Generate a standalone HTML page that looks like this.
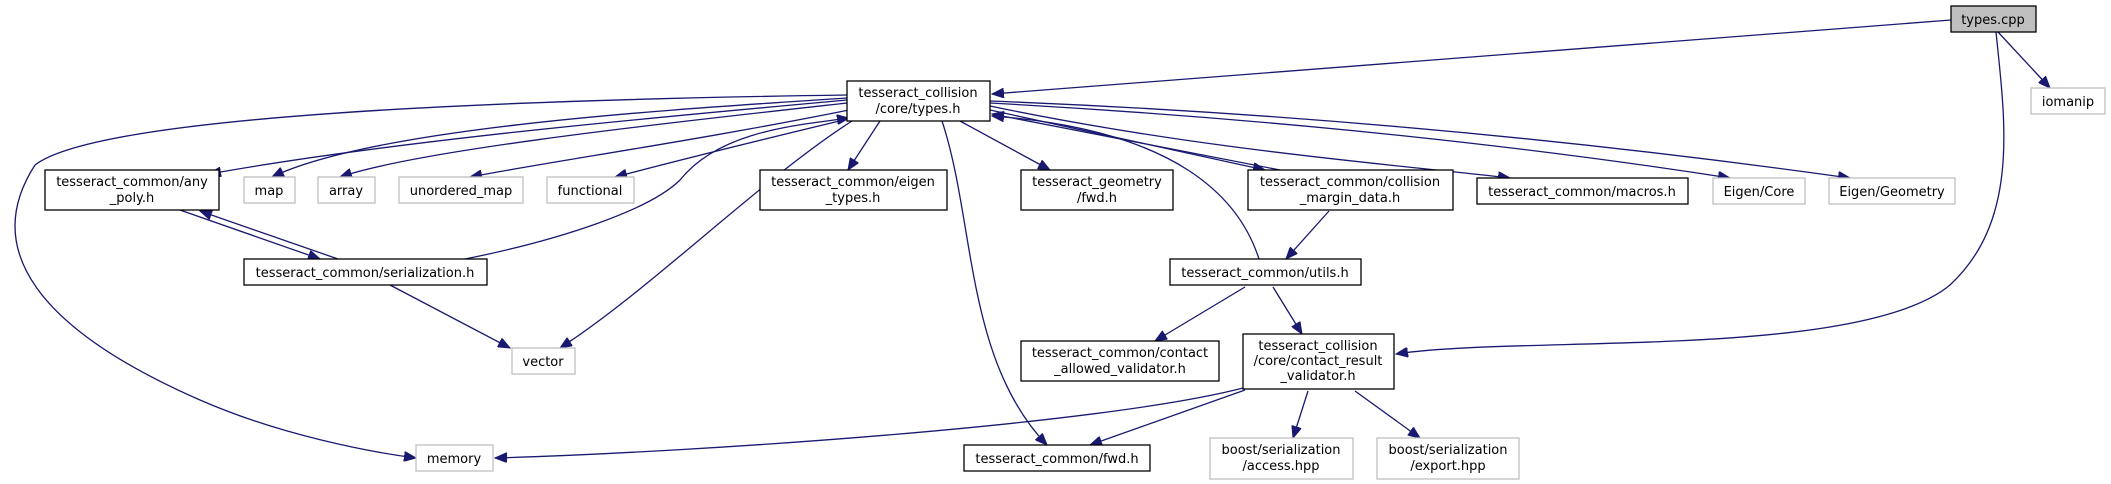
<!DOCTYPE html>
<html><head><meta charset="utf-8"><style>
html,body{margin:0;padding:0;background:#fff;}
svg{display:block;}
text{font-family:"DejaVu Sans","Liberation Sans",sans-serif;font-size:13px;fill:#000;text-anchor:middle;}
.h{fill:#fff;stroke:#000;stroke-width:1.3;}
.s{fill:#fff;stroke:#bfbfbf;stroke-width:1.3;}
.e{fill:none;stroke:#191970;stroke-width:1.3;}
</style></head><body>
<svg width="2111" height="484" viewBox="0 0 2111 484" xmlns="http://www.w3.org/2000/svg">
<defs>
<marker id="a" markerWidth="13" markerHeight="10" refX="12" refY="5" orient="auto" markerUnits="userSpaceOnUse">
<path d="M0,0 L12,5 L0,10 Z" fill="#191970" stroke="#191970"/>
</marker>
</defs>
<g class="e" marker-end="url(#a)">
<path d="M1951,20 L992,94"/>
<path d="M1998,32 L2050,88"/>
<path d="M1996,32 C2005,120 2020,220 1950,285 C1860,360 1520,335 1396,354"/>
<path d="M847,100 C650,118 400,140 209,174"/>
<path d="M847,98 C700,108 380,125 272,177"/>
<path d="M847,103 C650,125 420,150 340,177"/>
<path d="M849,110 C700,140 560,160 470,177"/>
<path d="M852,118 C760,140 680,160 615,177"/>
<path d="M880,121 L848,170"/>
<path d="M942,121 C975,220 965,360 1047,445"/>
<path d="M960,121 L1050,170"/>
<path d="M990,110 L1265,170"/>
<path d="M1280,170 L992,114"/>
<path d="M990,106 C1200,150 1400,165 1510,178"/>
<path d="M990,103 C1300,120 1550,150 1730,178"/>
<path d="M990,101 C1350,115 1650,150 1850,178"/>
<path d="M847,95 C500,100 100,115 35,165 C-20,250 40,330 200,400 C280,435 370,452 416,458"/>
<path d="M852,121 C760,180 650,290 560,348"/>
<path d="M465,259 C560,240 650,210 680,180 C720,130 800,125 849,118"/>
<path d="M1259,259 C1240,200 1180,130 992,116"/>
<path d="M180,210 L320,259"/>
<path d="M338,259 L200,211"/>
<path d="M390,285 L510,348"/>
<path d="M1329,211 L1286,259"/>
<path d="M1245,287 L1155,341"/>
<path d="M1273,287 L1302,334"/>
<path d="M1243,388 C1100,425 700,452 495,458"/>
<path d="M1245,390 L1090,445"/>
<path d="M1308,391 L1293,438"/>
<path d="M1355,391 L1420,438"/>
</g>
<rect x="1951" y="6" width="85" height="26" fill="#bfbfbf" stroke="#000" stroke-width="1.3"/>
<text x="1993" y="24">types.cpp</text>
<rect class="s" x="2031" y="88" width="74" height="26"/><text x="2068" y="106">iomanip</text>
<rect class="h" x="847" y="81" width="143" height="40"/><text x="918" y="97">tesseract_collision</text><text x="918" y="113">/core/types.h</text>
<rect class="h" x="45" y="170" width="174" height="40"/><text x="132" y="186">tesseract_common/any</text><text x="132" y="202">_poly.h</text>
<rect class="s" x="244" y="177" width="51" height="26"/><text x="269" y="195">map</text>
<rect class="s" x="318" y="177" width="57" height="26"/><text x="346" y="195">array</text>
<rect class="s" x="399" y="177" width="124" height="26"/><text x="461" y="195">unordered_map</text>
<rect class="s" x="547" y="177" width="87" height="26"/><text x="590" y="195">functional</text>
<rect class="h" x="760" y="170" width="187" height="40"/><text x="853" y="186">tesseract_common/eigen</text><text x="853" y="202">_types.h</text>
<rect class="h" x="1021" y="170" width="152" height="40"/><text x="1097" y="186">tesseract_geometry</text><text x="1097" y="202">/fwd.h</text>
<rect class="h" x="1248" y="170" width="205" height="40"/><text x="1350" y="186">tesseract_common/collision</text><text x="1350" y="202">_margin_data.h</text>
<rect class="h" x="1477" y="178" width="211" height="26"/><text x="1582" y="196">tesseract_common/macros.h</text>
<rect class="s" x="1713" y="178" width="92" height="26"/><text x="1759" y="196">Eigen/Core</text>
<rect class="s" x="1829" y="178" width="126" height="26"/><text x="1892" y="196">Eigen/Geometry</text>
<rect class="h" x="244" y="259" width="243" height="26"/><text x="365" y="277">tesseract_common/serialization.h</text>
<rect class="h" x="1170" y="259" width="191" height="26"/><text x="1265" y="277">tesseract_common/utils.h</text>
<rect class="s" x="512" y="348" width="63" height="26"/><text x="543" y="366">vector</text>
<rect class="h" x="1021" y="341" width="198" height="40"/><text x="1120" y="357">tesseract_common/contact</text><text x="1120" y="373">_allowed_validator.h</text>
<rect class="h" x="1243" y="334" width="151" height="55"/><text x="1318" y="350">tesseract_collision</text><text x="1318" y="365">/core/contact_result</text><text x="1318" y="380">_validator.h</text>
<rect class="s" x="416" y="445" width="77" height="26"/><text x="454" y="463">memory</text>
<rect class="h" x="964" y="445" width="186" height="26"/><text x="1057" y="463">tesseract_common/fwd.h</text>
<rect class="s" x="1210" y="438" width="143" height="41"/><text x="1281" y="454">boost/serialization</text><text x="1281" y="470">/access.hpp</text>
<rect class="s" x="1377" y="438" width="142" height="41"/><text x="1448" y="454">boost/serialization</text><text x="1448" y="470">/export.hpp</text>
</svg>
</body></html>
